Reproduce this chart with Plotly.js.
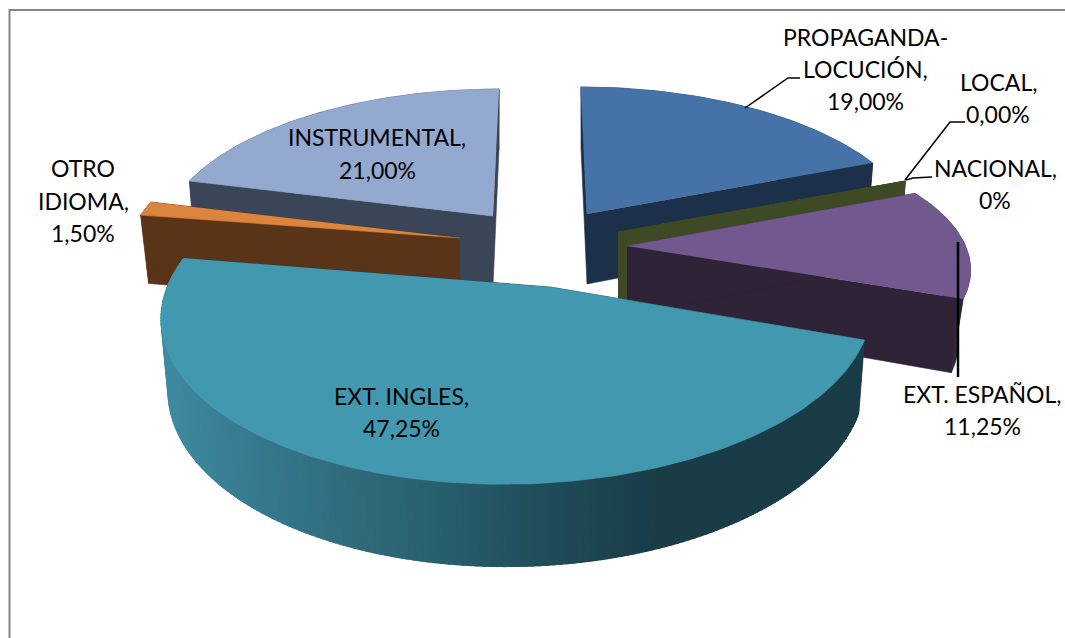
<!DOCTYPE html>
<html>
<head>
<meta charset="utf-8">
<script src="https://cdn.plot.ly/plotly-3.0.1.min.js"></script>
<style>html,body{margin:0;padding:0;background:#fff}#chart{width:1065px;height:638px}</style>
</head>
<body>
<div id="chart"></div>
<script>
// Programming share by category, in percent, clockwise from twelve o'clock
const categories = ['PROPAGANDA-LOCUCIÓN', 'LOCAL', 'NACIONAL', 'EXT. ESPAÑOL', 'EXT. INGLES', 'OTRO IDIOMA', 'INSTRUMENTAL'];
const shares = [19.0, 0.0, 0.0, 11.25, 47.25, 1.5, 21.0];

const topColors = ['#4572A7', '#5C7030', '#5C7030', '#71588F', '#4198AF', '#DB843D', '#93A9CF'];
const wallColors = ['#1C3049', '#3E4A23', '#3E4A23', '#2F2338', '#1A3C47', '#5A3418', '#3B4558'];

// Camera for each exploded wedge: apex on the page, plane-to-screen terms, base shrink
const wedgeViews = [
  {ax: 587, ay: 214, A: 327, B: 7, C: 0, D: 146, p: 0, q: -0.15, s: 0.982},
  {ax: 618, ay: 232, A: 326, B: 0, C: 0, D: 146, p: 0, q: -0.15, s: 0.982},
  {ax: 618, ay: 232, A: 326, B: 0, C: 0, D: 146, p: 0, q: -0.15, s: 0.982},
  {ax: 627, ay: 246, A: 260, B: 0, C: 0, D: 120, p: -0.232, q: -0.15, s: 0.965},
  {ax: 550, ay: 287, A: 348, B: -10, C: 1, D: 167, p: 0.09, q: -0.15, s: 0.982},
  {ax: 460, ay: 238, A: 331, B: 0, C: 0, D: 150, p: 0, q: -0.15, s: 0.975},
  {ax: 493, ay: 216, A: 327, B: -7, C: 0, D: 146, p: 0, q: -0.15, s: 0.982}
];
const paintOrder = [6, 0, 1, 2, 5, 3, 4];
const thickness = 70;

// Shading of the curved rim of the large wedge, by page x
const rimShade = [[166, '#3E8AA0'], [250, '#367A8F'], [350, '#306B7C'], [450, '#275D6B'], [530, '#214F5C'], [600, '#1C4450'], [660, '#1A3C47'], [870, '#1A3C47']];

// One entry per printed line of label text
const labelLines = [
  ['PROPAGANDA-', 865, 37], ['LOCUCIÓN,', 865, 69], ['19,00%', 865, 101],
  ['LOCAL,', 998, 82], ['0,00%', 998, 114],
  ['NACIONAL,', 995, 168], ['0%', 995, 200],
  ['EXT. ESPAÑOL,', 982, 394], ['11,25%', 982, 426],
  ['EXT. INGLES,', 401, 396], ['47,25%', 401, 428],
  ['INSTRUMENTAL,', 377, 137], ['21,00%', 377, 170],
  ['OTRO', 83, 168], ['IDIOMA,', 83, 201], ['1,50%', 83, 233]
];

const leaderLines = [
  {x: [745, 788, 800], y: [108, 78, 78], w: 1.5},
  {x: [905, 950, 965], y: [180, 122, 122], w: 1.5},
  {x: [906, 913, 932], y: [180, 178, 177], w: 1.5},
  {x: [958, 958], y: [242, 377], w: 2.5}
];

function hexToRgb(h) {
  return [1, 3, 5].map(i => parseInt(h.slice(i, i + 2), 16));
}
function shadeAt(x) {
  for (let i = 1; i < rimShade.length; i++) {
    if (x <= rimShade[i][0]) {
      const a = rimShade[i - 1], b = rimShade[i];
      const t = Math.max(0, (x - a[0]) / (b[0] - a[0]));
      const ca = hexToRgb(a[1]), cb = hexToRgb(b[1]);
      return 'rgb(' + ca.map((c, k) => Math.round(c + (cb[k] - c) * t)).join(',') + ')';
    }
  }
  return rimShade[rimShade.length - 1][1];
}

// Project a point of the unit disc (degrees clockwise from top, radius r) to the top face
function topPoint(view, deg, r) {
  const rad = deg * Math.PI / 180;
  const u = r * Math.sin(rad), v = -r * Math.cos(rad);
  const w = 1 + view.p * u + view.q * v;
  return {
    x: view.ax + (view.A * u + view.B * v) / w,
    y: view.ay + (view.C * u + view.D * v) / w,
    v: v
  };
}
// Same point dropped to the underside of the pie
function basePoint(view, deg, r) {
  const t = topPoint(view, deg, r);
  return {
    x: view.ax + (t.x - view.ax) * view.s,
    y: t.y + thickness / (1 + view.q * t.v)
  };
}
function polygon(points, color) {
  return {
    type: 'scatter', mode: 'lines', fill: 'toself', fillcolor: color,
    x: points.map(p => p.x), y: points.map(p => p.y),
    line: {color: color, width: 0.6}, hoverinfo: 'skip', showlegend: false
  };
}

const total = shares.reduce((a, b) => a + b, 0);
const wedges = [];
let running = 0;
shares.forEach(s => {
  wedges.push({start: running / total * 360, end: (running + s) / total * 360});
  running += s;
});

const traces = [];
paintOrder.forEach(i => {
  const view = wedgeViews[i], w = wedges[i];
  const wall = wallColors[i];
  // radial walls
  [w.end, w.start].forEach(deg => {
    traces.push(polygon([topPoint(view, deg, 0), topPoint(view, deg, 1), basePoint(view, deg, 1), basePoint(view, deg, 0)], wall));
  });
  if (w.end > w.start) {
    // outer rim, cut into overlapping strips so the large wedge can carry its shading
    const strips = Math.ceil(w.end - w.start);
    const span = w.end - w.start;
    if (i === 4) {
      for (let k = 0; k < strips; k++) {
        const d0 = w.start + span * k / strips;
        const d1 = Math.min(w.end, d0 + span / strips * 2.5);
        const dm = (d0 + d0 + span / strips) / 2;
        const band = [];
        for (let d = d0; d < d1; d += 0.5) band.push(topPoint(view, d, 1));
        band.push(topPoint(view, d1, 1));
        band.push(basePoint(view, d1, 1));
        for (let d = d1 - 0.5; d > d0; d -= 0.5) band.push(basePoint(view, d, 1));
        band.push(basePoint(view, d0, 1));
        traces.push(polygon(band, shadeAt(topPoint(view, dm, 1).x)));
      }
    } else {
      const rim = [];
      for (let k = 0; k <= strips; k++) rim.push(topPoint(view, w.start + span * k / strips, 1));
      for (let k = strips; k >= 0; k--) rim.push(basePoint(view, w.start + span * k / strips, 1));
      traces.push(polygon(rim, wall));
    }
    // top face
    const face = [topPoint(view, w.start, 0)];
    for (let k = 0; k <= strips; k++) face.push(topPoint(view, w.start + span * k / strips, 1));
    traces.push(polygon(face, topColors[i]));
  }
});

leaderLines.forEach(l => {
  traces.push({type: 'scatter', mode: 'lines', x: l.x, y: l.y, line: {color: '#000', width: l.w}, hoverinfo: 'skip', showlegend: false});
});

const hiddenAxis = {visible: false, fixedrange: true, showgrid: false, zeroline: false};
const layout = {
  width: 1065, height: 638,
  margin: {l: 0, r: 0, t: 0, b: 0},
  paper_bgcolor: '#fff', plot_bgcolor: '#fff',
  showlegend: false,
  xaxis: Object.assign({range: [0, 1065]}, hiddenAxis),
  yaxis: Object.assign({range: [638, 0]}, hiddenAxis),
  shapes: [{
    type: 'path', path: 'M 9.5 638 L 9.5 10 L 1065 10',
    line: {color: '#868686', width: 2}
  }],
  annotations: labelLines.map(l => ({
    text: l[0], x: l[1], y: l[2], xref: 'x', yref: 'y',
    xanchor: 'center', yanchor: 'middle', showarrow: false,
    font: {family: 'Lato, "Liberation Sans", sans-serif', size: 23, color: '#000'}
  }))
};

Plotly.newPlot('chart', traces, layout, {displayModeBar: false, staticPlot: true});
</script>
</body>
</html>
